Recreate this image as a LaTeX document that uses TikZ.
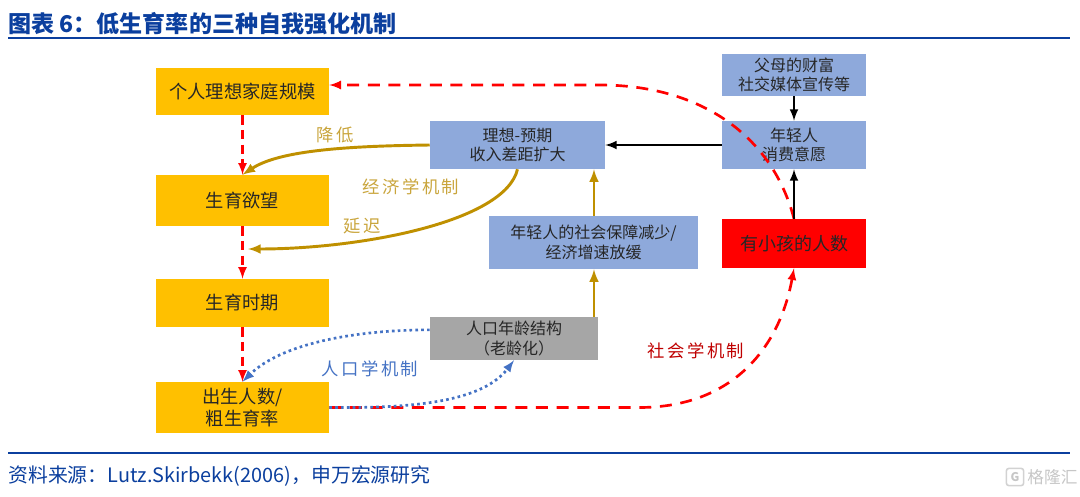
\documentclass[tikz,border=0pt]{standalone}
\usepackage{fontspec}
\setmainfont{Noto Sans CJK SC}
\newfontfamily\spacedfont[LetterSpace=14]{Noto Sans CJK SC}
\usepackage{tikz}
\usetikzlibrary{%
    shapes,%
    arrows,%
    positioning,%
    calc%
}
\definecolor{headblue}{HTML}{0B3F9E}
\definecolor{boxorange}{HTML}{FFC000}
\definecolor{boxblue}{HTML}{8EA9DB}
\definecolor{boxgray}{HTML}{A6A6A6}
\definecolor{linegold}{HTML}{BF9000}
\definecolor{textgold}{HTML}{C9A53C}
\definecolor{lineblue}{HTML}{4472C4}
\tikzset{
    basebox/.style = {inner sep = 0pt, align = center, text = black!85, font = \fontsize{12}{14.5}\selectfont},
    orangebox/.style = {basebox, fill = boxorange, minimum width = 129.75pt, font = \fontsize{13.7}{16}\selectfont},
    bluebox/.style = {basebox, fill = boxblue},
    redline/.style = {draw = red, line width = 2pt, dash pattern = on 9pt off 6.5pt, -latex},
    shortred/.style = {redline, dash pattern = on 7pt off 4pt},
    goldline/.style = {draw = linegold, line width = 2.2pt, -latex},
    blackline/.style = {draw = black, line width = 1.9pt, -latex},
    blueline/.style = {draw = lineblue, line width = 2pt, dash pattern = on 2pt off 2.4pt, -latex},
    mechlabel/.style = {inner sep = 0pt, font = \spacedfont\fontsize{13}{15}\selectfont}
}

\begin{document}
\begin{tikzpicture}[x = 0.75pt, y = -0.75pt]
    \useasboundingbox (0,0) rectangle (1080,496);
    % Define header and footer
    \node[anchor = west, inner sep = 0pt, text = headblue, font = \bfseries\fontsize{17.3}{19}\selectfont] (title) at (8,24) {图表 6：低生育率的三种自我强化机制};
    \node[anchor = west, inner sep = 0pt, text = headblue, font = \fontsize{14.9}{18}\selectfont] (source) at (8,476) {资料来源：Lutz.Skirbekk(2006)，申万宏源研究};
    \coordinate (headleft) at (8,38);
    \coordinate (headright) at (1070,38);
    \coordinate (footleft) at (8,453);
    \coordinate (footright) at (1070,453);
    \draw[headblue, line width = 1.5pt] (headleft) -- (headright);
    \draw[headblue, line width = 1.5pt] (footleft) -- (footright);

    % Define left column
    \node[orangebox, minimum height = 35.25pt] (size) at (242.5,91.5) {个人理想家庭规模};
    \node[orangebox, minimum height = 38.25pt] (desire) at (242.5,200.5) {生育欲望};
    \node[orangebox, minimum height = 36pt] (period) at (242.5,303) {生育时期};
    \node[orangebox, minimum height = 38.25pt] (birth) at (242.5,407.5) {出生人数/\\粗生育率};

    % Define middle and right boxes
    \node[bluebox, minimum width = 131.25pt, minimum height = 36pt] (gap) at (517.5,145) {理想-预期\\收入差距扩大};
    \node[bluebox, minimum width = 156.75pt, minimum height = 39.75pt] (welfare) at (593.5,242.5) {年轻人的社会保障减少/\\经济增速放缓};
    \node[basebox, fill = boxgray, minimum width = 126pt, minimum height = 32.25pt] (age) at (514,338.5) {人口年龄结构\\（老龄化）};
    \node[bluebox, minimum width = 108pt, minimum height = 31.5pt] (parents) at (794,75) {父母的财富\\社交媒体宣传等};
    \node[bluebox, minimum width = 108pt, minimum height = 36pt] (spend) at (794,145) {年轻人\\消费意愿};
    \node[basebox, fill = red, minimum width = 108pt, minimum height = 36.75pt, font = \fontsize{13.5}{16}\selectfont] (kids) at (794,243.5) {有小孩的人数};

    % Define curve helpers
    \coordinate (goldx) at (594,0);
    \coordinate (delayend) at (248,249);
    \coordinate (redbend) at (600,85);
    \coordinate (redflat) at (640,407.5);

    % Draw the dashed chain
    \draw[shortred] (size) -- (desire);
    \draw[shortred] (desire) -- (period);
    \draw[shortred] (period) -- (birth);
    \draw[redline] (kids.north) .. controls (772,135) and (700,85) .. (redbend) -- (size.east |- redbend);
    \draw[redline] (birth.east) -- (redflat) .. controls (735,407) and (780,345) .. (kids.south);

    % Draw the gold arrows
    \draw[goldline] (gap.west) .. controls (350,146) and (280,150) .. (desire.north);
    \draw[goldline] (gap.south) .. controls (505,222) and (360,249) .. (delayend);
    \draw[goldline] (age.north -| goldx) -- (welfare.south -| goldx);
    \draw[goldline] (welfare.north -| goldx) -- (gap.south -| goldx);

    % Draw the black arrows
    \draw[blackline] (spend) -- (gap);
    \draw[blackline] (parents) -- (spend);
    \draw[blackline] (kids) -- (spend);

    % Draw the dotted arrows
    \draw[blueline] ([yshift = 6.5pt]age.west) .. controls (350,330) and (280,345) .. (birth.north);
    \draw[blueline] (birth.east) .. controls (400,408) and (480,405) .. (age.south);

    % Place the labels
    \node[mechlabel, text = textgold] (lower) at (335,135) {降低};
    \node[mechlabel, text = textgold] (econ) at (411,187) {经济学机制};
    \node[mechlabel, text = textgold] (delay) at (362,226) {延迟};
    \node[mechlabel, text = lineblue] (demog) at (370,369) {人口学机制};
    \node[mechlabel, text = red!75!black] (social) at (696,351) {社会学机制};

    % Place the mark in the corner
    \node[draw = gray!35, line width = 1.2pt, rounded corners = 2pt, minimum size = 13pt, inner sep = 0pt, text = gray!45, font = \bfseries\fontsize{9}{9}\selectfont] (logo) at (1015,477) {G};
    \node[right = 2pt of logo, inner sep = 0pt, text = gray!45, font = \fontsize{12.5}{14}\selectfont] (mark) {格隆汇};
\end{tikzpicture}
\end{document}
